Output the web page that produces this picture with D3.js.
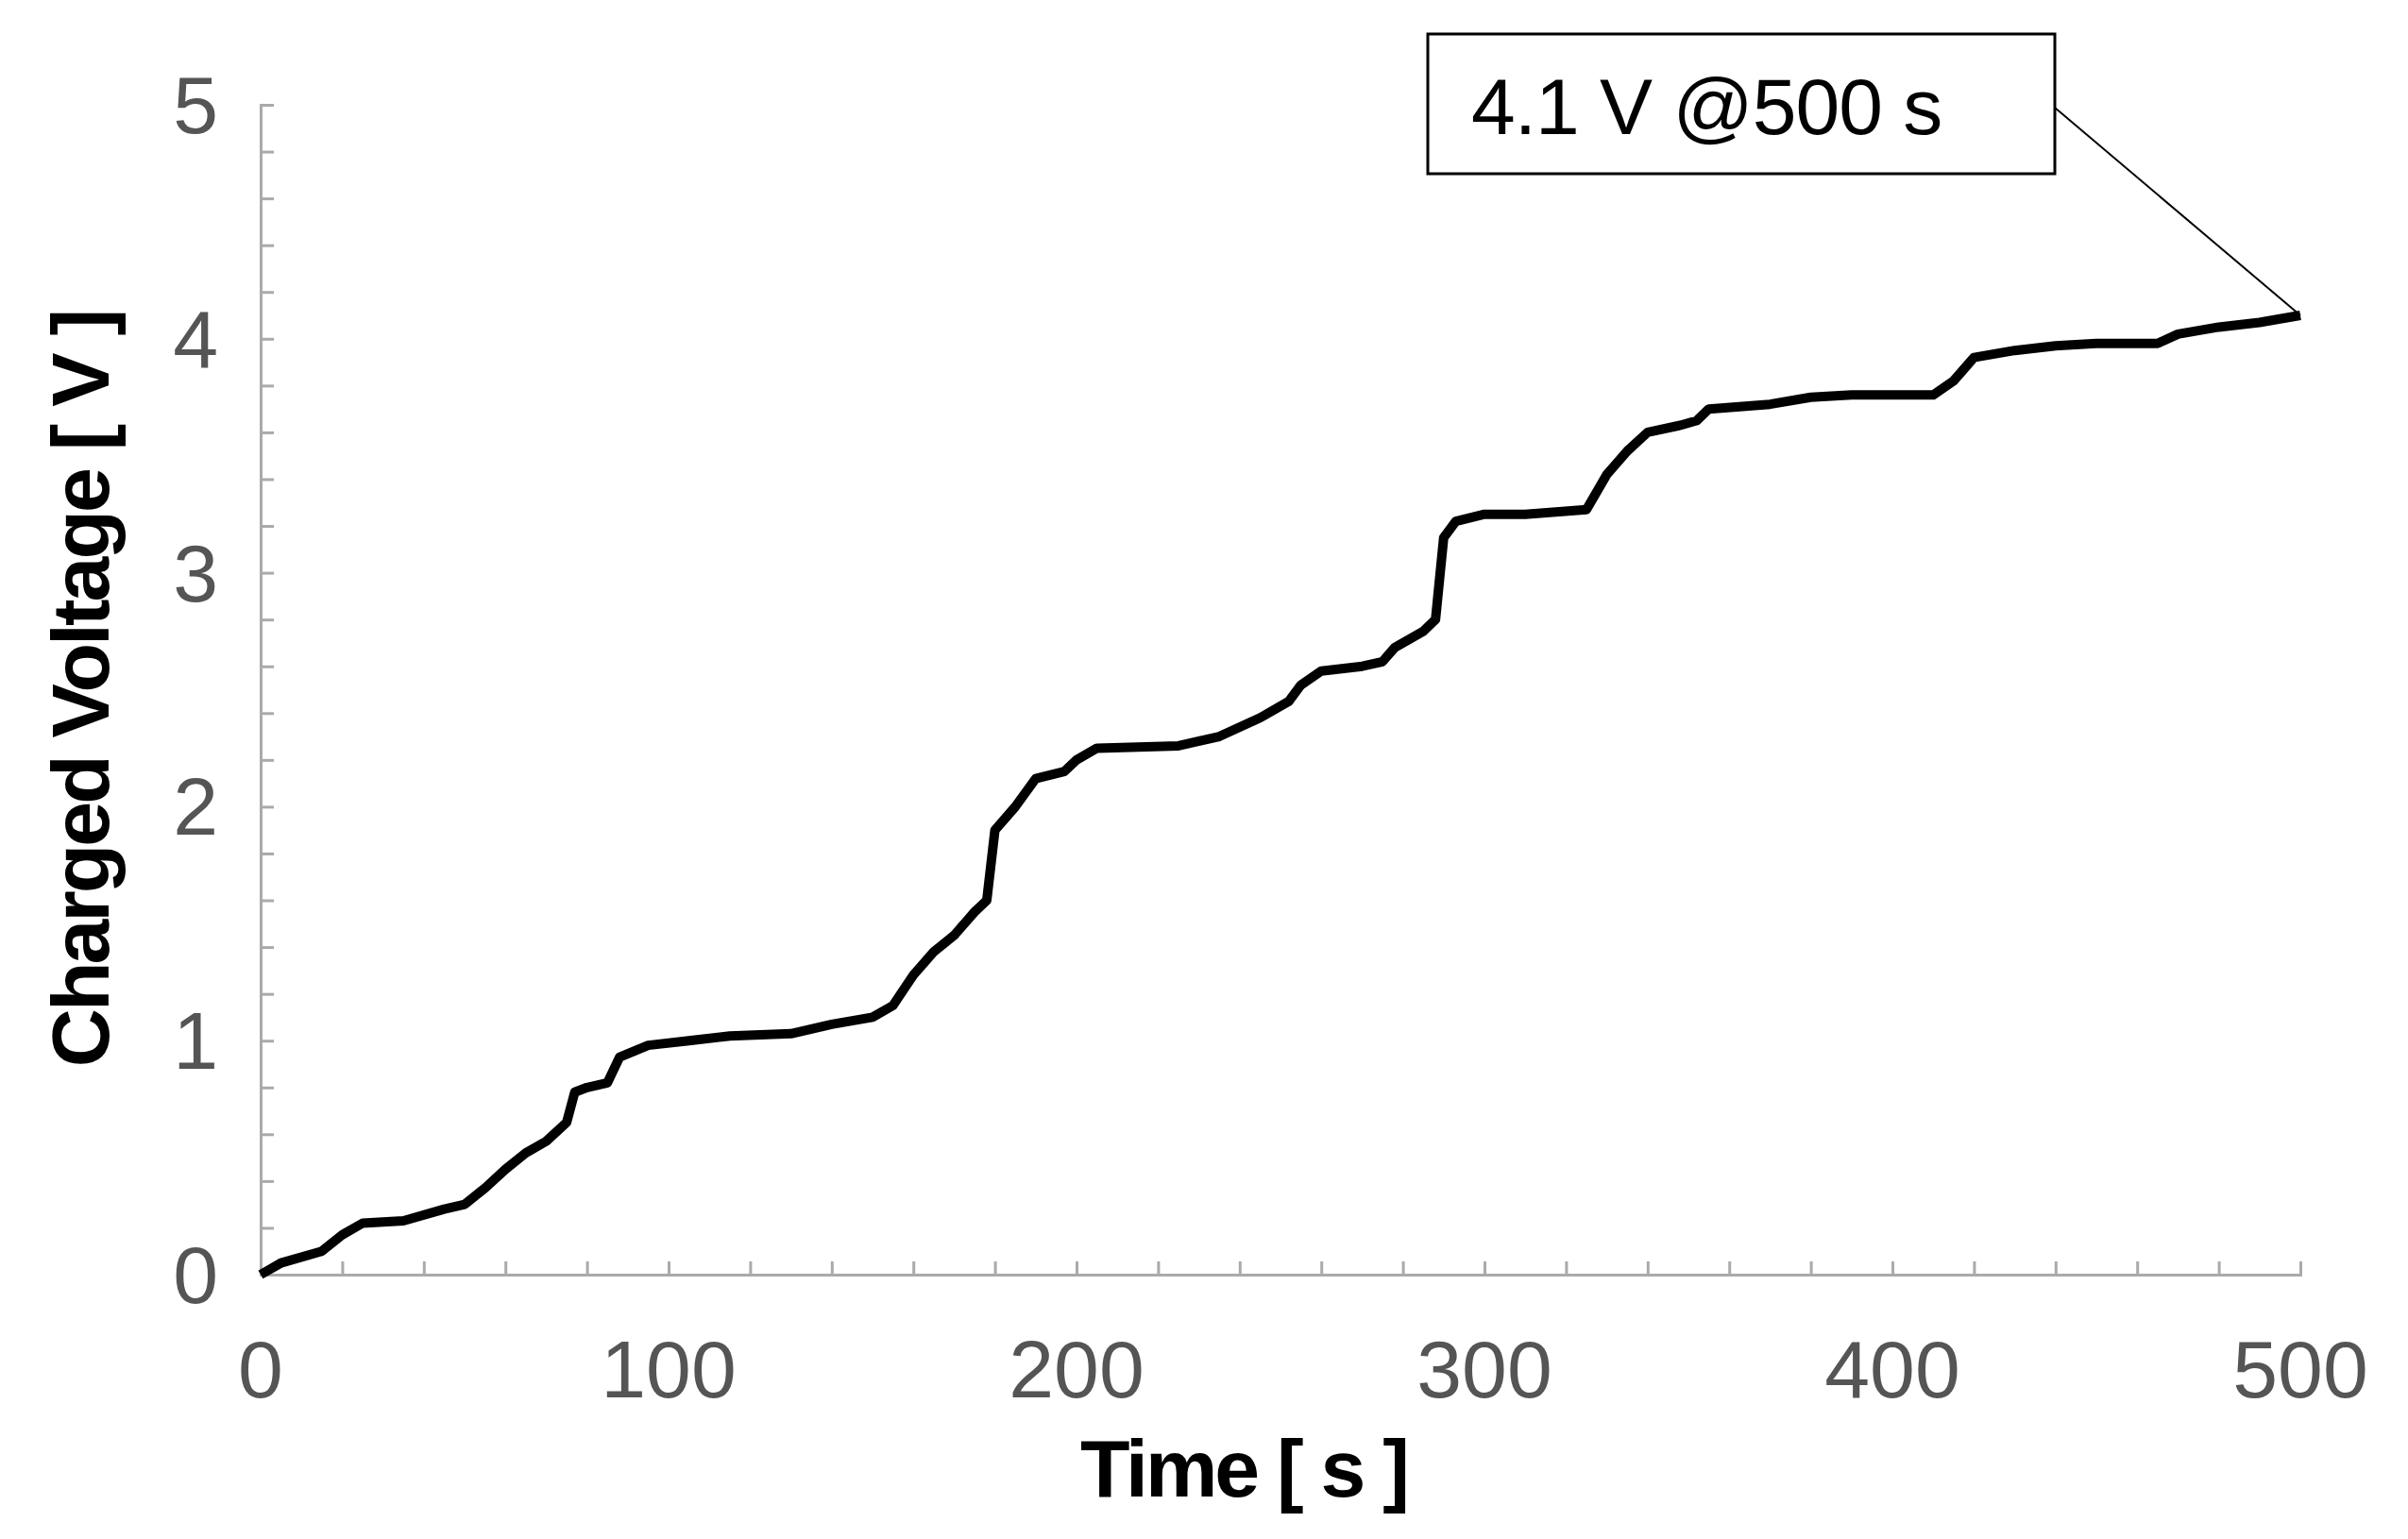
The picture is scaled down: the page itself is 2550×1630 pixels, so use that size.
<!DOCTYPE html>
<html><head><meta charset="utf-8">
<script src="https://cdn.jsdelivr.net/npm/d3@7"></script>
<style>body{margin:0;background:#fff}svg{display:block}</style>
</head><body><div id="chart"></div>
<script>
const times = [0,5,15,20,25,35,45,50,55,60,65,70,75,77,80,85,88,95,105,115,130,140,150,155,160,165,170,175,178,180,185,190,197,200,205,225,235,245,252,255,260,270,275,278,285,288,290,293,300,310,325,330,335,340,348,352,355,370,380,390,410,415,420,430,440,450,465,470,480,490,500]
const volts = [0,0.05,0.1,0.17,0.22,0.23,0.28,0.3,0.37,0.45,0.52,0.57,0.65,0.78,0.8,0.82,0.93,0.98,1.0,1.02,1.03,1.07,1.1,1.15,1.28,1.38,1.45,1.55,1.6,1.9,2.0,2.12,2.15,2.2,2.25,2.26,2.3,2.38,2.45,2.52,2.58,2.6,2.62,2.68,2.75,2.8,3.15,3.22,3.25,3.25,3.27,3.42,3.52,3.6,3.63,3.65,3.7,3.72,3.75,3.76,3.76,3.82,3.92,3.95,3.97,3.98,3.98,4.02,4.05,4.07,4.1]
const xTicks = [0,100,200,300,400,500]
const yTicks = [0,1,2,3,4,5]
const note = "4.1 V @500 s"

const W = 2550, H = 1630
const svg = d3.select("#chart").append("svg").attr("width", W).attr("height", H)
const x = d3.scaleLinear().domain([0,500]).range([276,2436])
const y = d3.scaleLinear().domain([0,5]).range([1350,111])
const axisCol = "#aaa"

// axes
const xa = svg.append("g").attr("transform", `translate(0,${y(0)})`)
  .call(d3.axisBottom(x).tickValues(d3.range(0,501,20)).tickSize(-14).tickFormat(""))
xa.selectAll("line,path").attr("stroke", axisCol).attr("stroke-width", 3)
const ya = svg.append("g").attr("transform", `translate(${x(0)},0)`)
  .call(d3.axisLeft(y).tickValues(d3.range(0,5.01,0.2)).tickSize(-14).tickFormat(""))
ya.selectAll("line,path").attr("stroke", axisCol).attr("stroke-width", 3)

svg.selectAll(".xt").data(xTicks).join("text")
  .attr("x", d => x(d)).attr("y", y(0) + 130).attr("text-anchor", "middle")
  .attr("font-family", "Liberation Sans, Arial").attr("font-size", 86).attr("fill", "#555").text(d => d)
svg.selectAll(".yt").data(yTicks).join("text")
  .attr("x", x(0) - 45).attr("y", d => y(d) + 30).attr("text-anchor", "end")
  .attr("font-family", "Liberation Sans, Arial").attr("font-size", 86).attr("fill", "#555").text(d => d)

svg.append("text").attr("x", 1317).attr("y", 1585).attr("text-anchor", "middle")
  .attr("font-family", "Liberation Sans, Arial").attr("font-weight", "bold").attr("font-size", 86)
  .attr("letter-spacing", -3).text("Time [ s ]")
svg.append("text").attr("transform", "translate(115,730) rotate(-90)").attr("text-anchor", "middle")
  .attr("font-family", "Liberation Sans, Arial").attr("font-weight", "bold").attr("font-size", 86)
  .attr("letter-spacing", -3).text("Charged Voltage [ V ]")

// curve
const data = times.map((t, i) => [t, volts[i]])
svg.append("path").datum(data)
  .attr("d", d3.line().x(d => x(d[0])).y(d => y(d[1])))
  .attr("fill", "none").attr("stroke", "#000").attr("stroke-width", 10).attr("stroke-linejoin", "round")

// annotation
svg.append("line").attr("x1", 2176).attr("y1", 114).attr("x2", x(500)).attr("y2", y(4.1))
  .attr("stroke", "#000").attr("stroke-width", 2)
svg.append("rect").attr("x", 1512).attr("y", 36).attr("width", 664).attr("height", 148)
  .attr("fill", "#fff").attr("stroke", "#000").attr("stroke-width", 3)
svg.append("text").attr("x", 1558).attr("y", 142)
  .attr("font-family", "Liberation Sans, Arial").attr("font-size", 84).attr("letter-spacing", -1).text(note)
</script></body></html>
